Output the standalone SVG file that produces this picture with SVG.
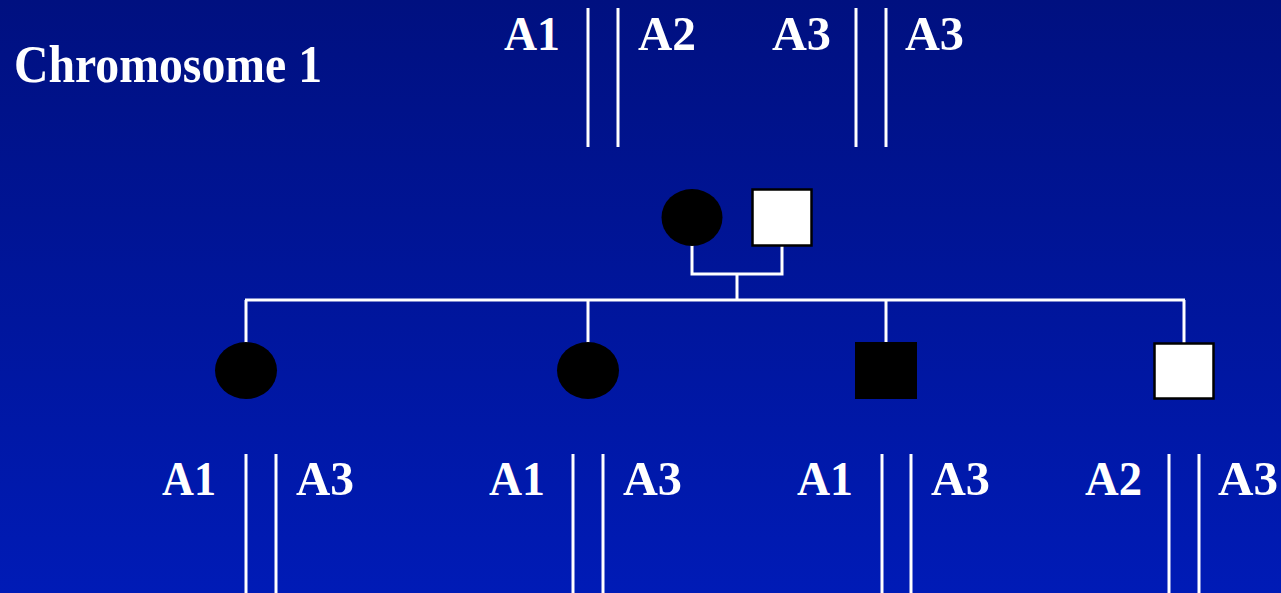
<svg xmlns="http://www.w3.org/2000/svg" width="1281" height="593" viewBox="0 0 1281 593">
<defs>
<linearGradient id="bg" x1="0" y1="0" x2="0" y2="1">
<stop offset="0" stop-color="#001080"/>
<stop offset="1" stop-color="#001BB6"/>
</linearGradient>
<style>
.lbl{font-family:"Liberation Serif","Times New Roman",serif;font-weight:bold;font-size:49px;fill:#ffffff}
.ttl{font-size:52px}
.chr{stroke:#ffffff;stroke-width:3;fill:none}
.conn{stroke:#ffffff;stroke-width:3;fill:none}
.aff{fill:#000000}
.unaff{fill:#ffffff;stroke:#000000;stroke-width:2.5}
</style>
</defs>
<rect x="0" y="0" width="1281" height="593" fill="url(#bg)"/>
<text id="title" class="lbl ttl" x="14" y="82" textLength="308" lengthAdjust="spacingAndGlyphs">Chromosome 1</text>

<g id="parent-chromosomes">
<text class="lbl" x="504" y="50" textLength="56" lengthAdjust="spacingAndGlyphs">A1</text>
<text class="lbl" x="638" y="50" textLength="58" lengthAdjust="spacingAndGlyphs">A2</text>
<text class="lbl" x="772" y="50" textLength="59" lengthAdjust="spacingAndGlyphs">A3</text>
<text class="lbl" x="905" y="50" textLength="59" lengthAdjust="spacingAndGlyphs">A3</text>
<line class="chr" x1="588" y1="8" x2="588" y2="147"/>
<line class="chr" x1="618" y1="8" x2="618" y2="147"/>
<line class="chr" x1="856" y1="8" x2="856" y2="147"/>
<line class="chr" x1="886" y1="8" x2="886" y2="147"/>
</g>

<g id="connectors">
<polyline class="conn" points="692,245 692,274 782,274 782,246"/>
<line class="conn" x1="737" y1="274" x2="737" y2="300"/>
<line class="conn" x1="245" y1="300" x2="1185" y2="300"/>
<line class="conn" x1="246" y1="300" x2="246" y2="343"/>
<line class="conn" x1="588" y1="300" x2="588" y2="343"/>
<line class="conn" x1="886" y1="300" x2="886" y2="343"/>
<line class="conn" x1="1184" y1="300" x2="1184" y2="343"/>
</g>

<g id="mother"><ellipse class="aff" cx="692" cy="217.5" rx="30.5" ry="28.5"/></g>
<g id="father"><rect class="unaff" x="752.5" y="189.5" width="59" height="56"/></g>

<g id="child1"><ellipse class="aff" cx="246" cy="370.5" rx="31" ry="28.5"/></g>
<g id="child2"><ellipse class="aff" cx="588" cy="370.5" rx="31" ry="28.5"/></g>
<g id="child3"><rect class="aff" x="855" y="342" width="62" height="57"/></g>
<g id="child4"><rect class="unaff" x="1154.5" y="343.5" width="59" height="55"/></g>

<g id="child-chromosomes">
<text class="lbl" x="162" y="495" textLength="54" lengthAdjust="spacingAndGlyphs">A1</text>
<text class="lbl" x="296" y="495" textLength="58" lengthAdjust="spacingAndGlyphs">A3</text>
<line class="chr" x1="246" y1="454" x2="246" y2="593"/>
<line class="chr" x1="276" y1="454" x2="276" y2="593"/>

<text class="lbl" x="489" y="495" textLength="56" lengthAdjust="spacingAndGlyphs">A1</text>
<text class="lbl" x="623" y="495" textLength="59" lengthAdjust="spacingAndGlyphs">A3</text>
<line class="chr" x1="573" y1="454" x2="573" y2="593"/>
<line class="chr" x1="603" y1="454" x2="603" y2="593"/>

<text class="lbl" x="797" y="495" textLength="56" lengthAdjust="spacingAndGlyphs">A1</text>
<text class="lbl" x="931" y="495" textLength="59" lengthAdjust="spacingAndGlyphs">A3</text>
<line class="chr" x1="882" y1="454" x2="882" y2="593"/>
<line class="chr" x1="911" y1="454" x2="911" y2="593"/>

<text class="lbl" x="1085" y="495" textLength="57" lengthAdjust="spacingAndGlyphs">A2</text>
<text class="lbl" x="1218" y="495" textLength="60" lengthAdjust="spacingAndGlyphs">A3</text>
<line class="chr" x1="1169" y1="454" x2="1169" y2="593"/>
<line class="chr" x1="1199" y1="454" x2="1199" y2="593"/>
</g>
</svg>
